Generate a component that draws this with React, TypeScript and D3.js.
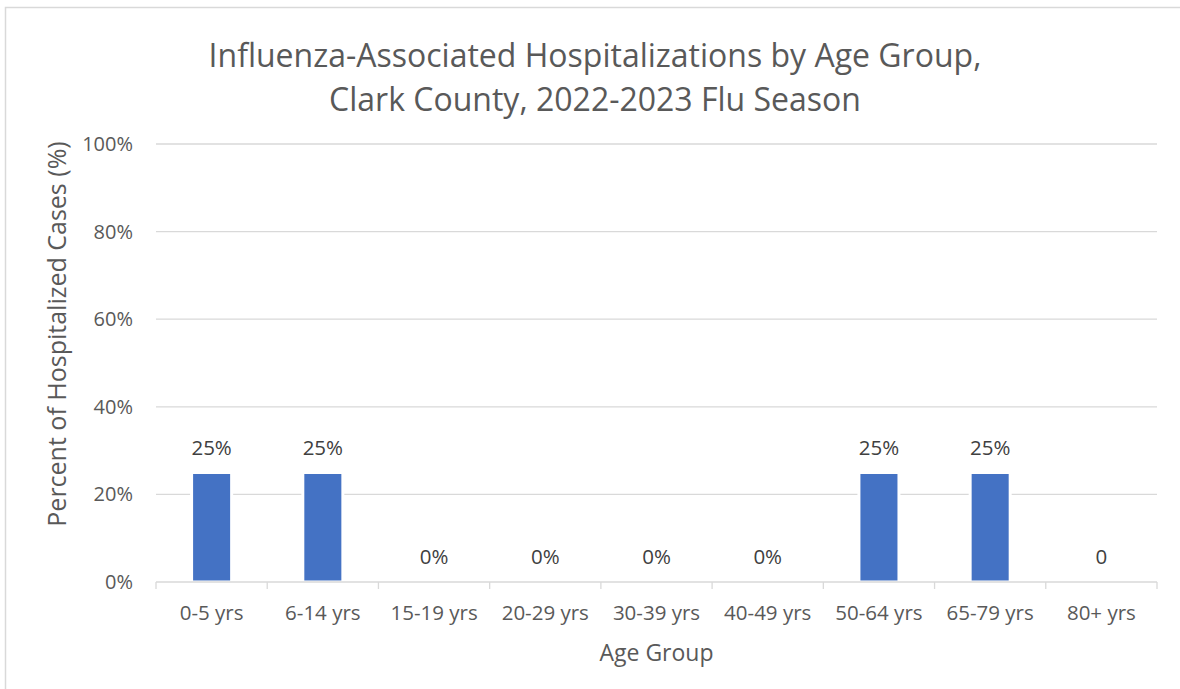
import * as d3 from "d3";
import { useEffect, useRef } from "react";

const AGE_GROUPS = [
  "0-5 yrs",
  "6-14 yrs",
  "15-19 yrs",
  "20-29 yrs",
  "30-39 yrs",
  "40-49 yrs",
  "50-64 yrs",
  "65-79 yrs",
  "80+ yrs",
];
const PERCENTS = [0.25, 0.25, 0, 0, 0, 0, 0.25, 0.25, 0];
const BAR_LABELS = ["25%", "25%", "0%", "0%", "0%", "0%", "25%", "25%", "0"];
const Y_TICKS = [0, 0.2, 0.4, 0.6, 0.8, 1];
const TITLE_LINES = [
  "Influenza-Associated Hospitalizations by Age Group,",
  "Clark County, 2022-2023 Flu Season",
];

const WIDTH = 1180;
const HEIGHT = 689;
const FONT = "'Open Sans', 'Noto Sans', sans-serif";

export default function App() {
  const svgRef = useRef<SVGSVGElement>(null);

  useEffect(() => {
    if (!svgRef.current) return;
    const svg = d3.select(svgRef.current);
    svg.selectAll("*").remove();

    const margin = { top: 144, right: 23, bottom: 107, left: 156 };
    const innerWidth = WIDTH - margin.left - margin.right;
    const innerHeight = HEIGHT - margin.top - margin.bottom;

    // chart frame
    svg
      .append("rect")
      .attr("x", 5.5)
      .attr("y", 7.5)
      .attr("width", WIDTH + 20)
      .attr("height", HEIGHT + 20)
      .style("fill", "white")
      .style("stroke", "#d9d9d9")
      .style("stroke-width", 1.5);

    // Title
    svg
      .append("text")
      .attr("text-anchor", "middle")
      .style("font-family", FONT)
      .style("font-size", "32px")
      .style("fill", "#595959")
      .selectAll("tspan")
      .data(TITLE_LINES)
      .join("tspan")
      .attr("x", 595)
      .attr("y", (_, i) => 67 + i * 44)
      .text((d) => d);

    const g = svg.append("g").attr("transform", `translate(${margin.left},${margin.top})`);

    const xScale = d3.scaleBand<string>().domain(AGE_GROUPS).range([0, innerWidth]).paddingInner(0.64).paddingOuter(0.32);
    const bandScale = d3.scaleBand<string>().domain(AGE_GROUPS).range([0, innerWidth]);
    const yScale = d3.scaleLinear().domain([0, 1]).range([innerHeight, 0]);

    // Grid lines
    g.append("g")
      .selectAll("line")
      .data(Y_TICKS.slice(1))
      .join("line")
      .attr("x1", 0)
      .attr("x2", innerWidth)
      .attr("y1", (d) => yScale(d))
      .attr("y2", (d) => yScale(d))
      .style("stroke", "#d9d9d9")
      .style("stroke-width", 1.3);

    // Y axis labels
    g.append("g")
      .selectAll("text")
      .data(Y_TICKS)
      .join("text")
      .attr("x", -23)
      .attr("y", (d) => yScale(d))
      .attr("dy", "0.35em")
      .attr("text-anchor", "end")
      .style("font-family", FONT)
      .style("font-size", "20px")
      .style("fill", "#595959")
      .text((d) => d3.format(".0%")(d));

    // Bars
    g.append("g")
      .selectAll("rect")
      .data(PERCENTS)
      .join("rect")
      .attr("x", (_, i) => xScale(AGE_GROUPS[i])!)
      .attr("width", xScale.bandwidth())
      .attr("y", (d) => yScale(d))
      .attr("height", (d) => innerHeight - yScale(d))
      .style("fill", "#4472c4")
      .style("stroke", (d) => (d > 0 ? "white" : "none"))
      .style("stroke-width", 3);

    // X axis line + ticks
    const xAxis = g.append("g").attr("transform", `translate(0,${innerHeight})`);
    xAxis
      .append("line")
      .attr("x1", 0)
      .attr("x2", innerWidth)
      .style("stroke", "#d9d9d9")
      .style("stroke-width", 1.3);
    xAxis
      .selectAll("line.tick")
      .data([...AGE_GROUPS.map((c) => bandScale(c)!), innerWidth])
      .join("line")
      .attr("class", "tick")
      .attr("x1", (d) => d)
      .attr("x2", (d) => d)
      .attr("y1", 0)
      .attr("y2", 7)
      .style("stroke", "#d9d9d9")
      .style("stroke-width", 1.3);
    xAxis
      .selectAll("text")
      .data(AGE_GROUPS)
      .join("text")
      .attr("x", (d) => bandScale(d)! + bandScale.bandwidth() / 2)
      .attr("y", 38)
      .attr("text-anchor", "middle")
      .style("font-family", FONT)
      .style("font-size", "20.5px")
      .style("fill", "#595959")
      .text((d) => d);

    // Data labels
    g.append("g")
      .selectAll("text")
      .data(PERCENTS)
      .join("text")
      .attr("x", (_, i) => bandScale(AGE_GROUPS[i])! + bandScale.bandwidth() / 2)
      .attr("y", (d) => yScale(d) - 18)
      .attr("text-anchor", "middle")
      .style("font-family", FONT)
      .style("font-size", "20.5px")
      .style("fill", "#404040")
      .text((_, i) => BAR_LABELS[i]);

    // Axis titles
    svg
      .append("text")
      .attr("x", margin.left + innerWidth / 2)
      .attr("y", 661)
      .attr("text-anchor", "middle")
      .style("font-family", FONT)
      .style("font-size", "23px")
      .style("fill", "#595959")
      .text("Age Group");

    svg
      .append("text")
      .attr("transform", `translate(66,${334}) rotate(-90)`)
      .attr("text-anchor", "middle")
      .style("font-family", FONT)
      .style("font-size", "25px")
      .style("fill", "#595959")
      .text("Percent of Hospitalized Cases (%)");
  }, []);

  return (
    <svg
      ref={svgRef}
      width={WIDTH}
      height={HEIGHT}
      style={{ position: "absolute", left: 0, top: 0, background: "white" }}
    />
  );
}
